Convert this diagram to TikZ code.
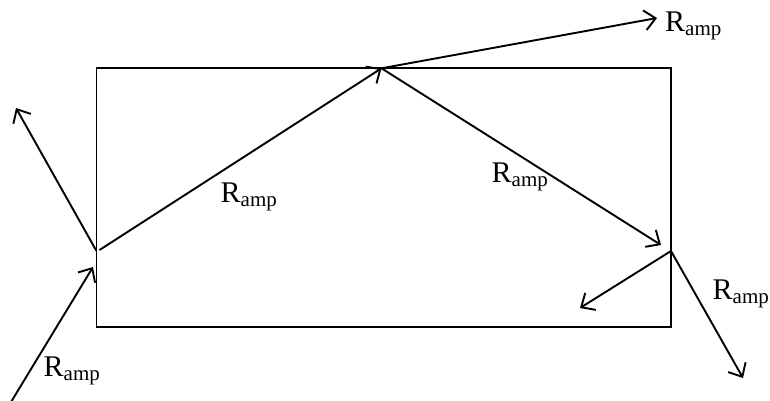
\documentclass[tikz,border=0pt]{standalone}
\usepackage{fontspec}
\setmainfont{Liberation Serif}
\usetikzlibrary{arrows.meta}
\begin{document}
\begin{tikzpicture}[x=1pt,y=-1pt,
  ray/.style={line width=1.9pt,-{Straight Barb[length=11pt,width=20pt,line width=1.9pt]}},
  lbl/.style={font=\fontsize{30}{34}\selectfont,inner sep=0pt}]
\useasboundingbox (0,0) rectangle (770,400);
\draw[line width=1.9pt] (96.5,68.3) rectangle (671,327);
\coordinate (A) at (96.5,251);
\coordinate (B) at (381.5,68.3);
\coordinate (C) at (671,251);
\coordinate (S) at (11,402);
\coordinate (Ai) at (93,267);
\coordinate (L) at (16,108);
\coordinate (T) at (657,18);
\coordinate (Ci) at (661,245);
\coordinate (E) at (580,308);
\coordinate (F) at (743,378);
\draw[ray] (S) -- (Ai);
\draw[ray] (A) -- (L);
\draw[ray] (A) ++(3,-1) -- (B);
\draw[ray] (B) -- (T);
\draw[ray] (B) -- (Ci);
\draw[ray] (C) -- (E);
\draw[ray] (C) -- (F);
\node[lbl] (l1) at (72,371) {R\textsubscript{amp}};
\node[lbl] (l2) at (249,197) {R\textsubscript{amp}};
\node[lbl] (l3) at (520,177) {R\textsubscript{amp}};
\node[lbl,anchor=west] (l4) at (665,26) {R\textsubscript{amp}};
\node[lbl] (l5) at (741,294) {R\textsubscript{amp}};
\end{tikzpicture}
\end{document}
